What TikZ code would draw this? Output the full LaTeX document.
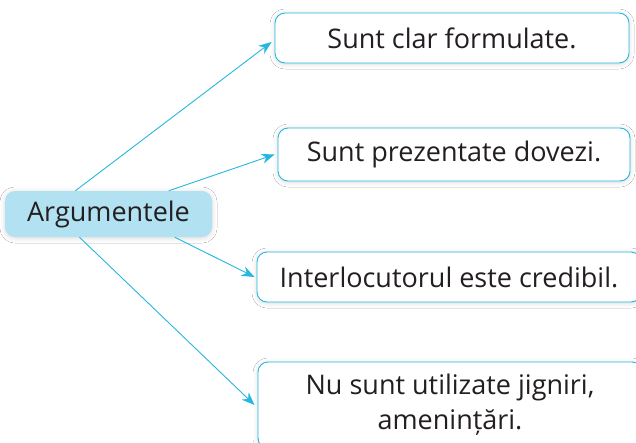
\documentclass[tikz,border=0pt]{standalone}
\usepackage{fontspec}
\setmainfont{Open Sans}
\usetikzlibrary{calc,arrows.meta,shadows.blur}
\definecolor{cyanline}{HTML}{25B8DE}
\definecolor{argfill}{HTML}{B2E1F1}
\definecolor{textcol}{HTML}{231F20}
\tikzset{
  outbox/.style={draw=cyanline, line width=0.9pt, rounded corners=10pt, fill=white,
    text=textcol, font=\fontsize{27}{35}\selectfont, align=center, inner sep=0pt,
    blur shadow={shadow xshift=0pt, shadow yshift=-1pt, shadow blur radius=5pt, shadow opacity=15}},
  argbox/.style={fill=argfill, rounded corners=10pt, text=textcol,
    font=\fontsize{27}{35}\selectfont, inner sep=0pt,
    blur shadow={shadow xshift=0pt, shadow yshift=-1pt, shadow blur radius=5pt, shadow opacity=15}},
  conn/.style={draw=cyanline, line width=0.9pt, -{Stealth[length=13pt,width=10pt]}}
}
\begin{document}
\begin{tikzpicture}[x=1pt,y=-1pt]
\clip (0,0) rectangle (636,442);
\fill[white] (0,0) rectangle (636,442);
\node[argbox, minimum width=207pt, minimum height=46pt] (arg) at (108.5,214) {Argumentele};
\node[outbox, minimum width=354pt, minimum height=50pt] (b1) at (452,38) {Sunt clar formulate.};
\node[outbox, minimum width=352pt, minimum height=53pt] (b2) at (454,154.5) {Sunt prezentate dovezi.};
\node[outbox, minimum width=384pt, minimum height=50pt] (b3) at (449,277) {Interlocutorul este credibil.};
\node[outbox, minimum width=384pt, minimum height=86pt] (b4) at (450,405) {Nu sunt utilizate jigniri,\\amenințări.};
\coordinate (s1) at ($(arg.north west)!0.34!(arg.north east)$);
\coordinate (s2) at ($(arg.north west)!0.79!(arg.north east)$);
\coordinate (s3) at ($(arg.south west)!0.82!(arg.south east)$);
\coordinate (s4) at ($(arg.south west)!0.36!(arg.south east)$);
\draw[conn] (s1) -- ([xshift=-3pt,yshift=-4pt]b1.west);
\draw[conn] (s2) -- ([xshift=-3pt]b2.west);
\draw[conn] (s3) -- ([xshift=-2pt]b3.west);
\draw[conn] (s4) -- ([xshift=-3pt]b4.west);
\end{tikzpicture}
\end{document}
